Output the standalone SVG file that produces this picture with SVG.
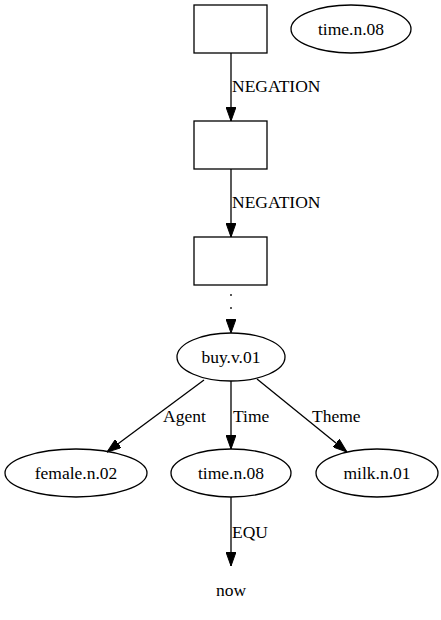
<svg xmlns="http://www.w3.org/2000/svg" width="441" height="620" viewBox="0 0 441 620">
<defs>
<style>
.n{fill:none;stroke:#000;stroke-width:1.3}
.e{fill:none;stroke:#000;stroke-width:1.3}
.d{stroke-dasharray:2 11}
text{font-family:"Liberation Serif","Times New Roman","DejaVu Serif",serif;font-size:17.5px;fill:#000}
.c{text-anchor:middle}
</style>
<marker id="ah" viewBox="0 0 14 10" refX="14" refY="5" markerWidth="14" markerHeight="10" markerUnits="userSpaceOnUse" orient="auto">
<path d="M0,0 L14,5 L0,10 Z" fill="#000" stroke="#000"/>
</marker>
</defs>
<rect width="441" height="620" fill="#fff"/>
<g id="connectors">
<g id="e1"><path class="e" d="M231,53 L231,121" marker-end="url(#ah)"/><text font-family="Liberation Serif, serif" x="232" y="92">NEGATION</text></g>
<g id="e2"><path class="e" d="M231,169 L231,237" marker-end="url(#ah)"/><text font-family="Liberation Serif, serif" x="232" y="208">NEGATION</text></g>
<g id="e3"><path class="e d" d="M231,294 L231,333" marker-end="url(#ah)"/></g>
<g id="e4"><path class="e" d="M204,380 L107,452" marker-end="url(#ah)"/><text font-family="Liberation Serif, serif" x="163" y="422">Agent</text></g>
<g id="e5"><path class="e" d="M231,381 L231,449" marker-end="url(#ah)"/><text font-family="Liberation Serif, serif" x="233" y="422">Time</text></g>
<g id="e6"><path class="e" d="M257,379 L347,452" marker-end="url(#ah)"/><text font-family="Liberation Serif, serif" x="312" y="422">Theme</text></g>
<g id="e7"><path class="e" d="M231,497 L231,566" marker-end="url(#ah)"/><text font-family="Liberation Serif, serif" x="232" y="538">EQU</text></g>
</g>
<g id="box1"><rect class="n" x="194" y="5" width="73" height="48"/></g>
<g id="time_top"><ellipse class="n" cx="351" cy="29" rx="60" ry="24"/><text font-family="Liberation Serif, serif" class="c" x="351" y="35">time.n.08</text></g>
<g id="box2"><rect class="n" x="194" y="121" width="73" height="48"/></g>
<g id="box3"><rect class="n" x="194" y="237" width="73" height="48"/></g>
<g id="buy"><ellipse class="n" cx="231" cy="357" rx="54" ry="24"/><text font-family="Liberation Serif, serif" class="c" x="231" y="363">buy.v.01</text></g>
<g id="female"><ellipse class="n" cx="76" cy="473" rx="71" ry="24"/><text font-family="Liberation Serif, serif" class="c" x="76" y="479">female.n.02</text></g>
<g id="time_mid"><ellipse class="n" cx="231" cy="473" rx="60" ry="24"/><text font-family="Liberation Serif, serif" class="c" x="231" y="479">time.n.08</text></g>
<g id="milk"><ellipse class="n" cx="377" cy="473" rx="61" ry="24"/><text font-family="Liberation Serif, serif" class="c" x="377" y="479">milk.n.01</text></g>
<g id="now"><text font-family="Liberation Serif, serif" class="c" x="231" y="596">now</text></g>
</svg>
